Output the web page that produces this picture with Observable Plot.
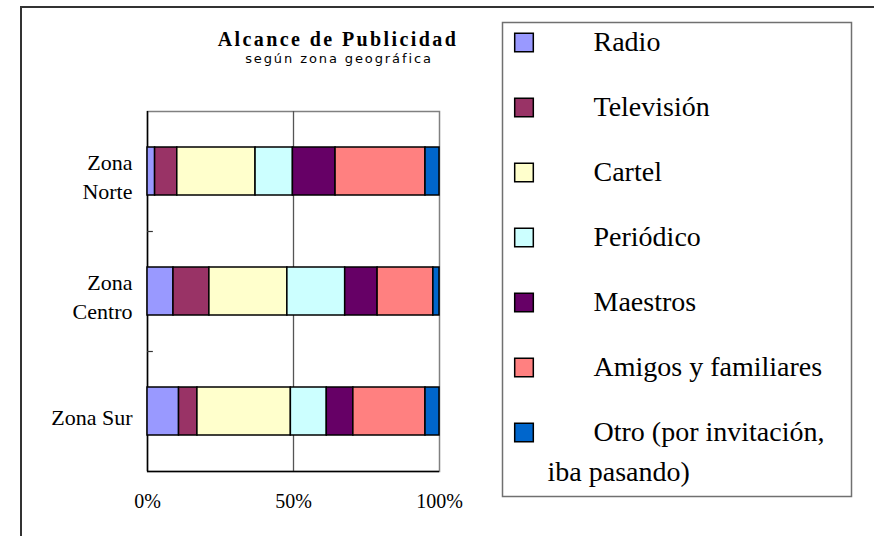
<!DOCTYPE html>
<html>
<head>
<meta charset="utf-8">
<script src="https://cdn.jsdelivr.net/npm/d3@7"></script>
<script src="https://cdn.jsdelivr.net/npm/@observablehq/plot@0.6"></script>
<style>
  html, body { margin: 0; padding: 0; background: #fff; overflow: hidden; }
  #wrap { position: relative; width: 874px; height: 536px; overflow: hidden; background: #fff; }
  #outer { position: absolute; left: 20px; top: 6px; width: 1000px; height: 1000px;
           border-top: 2px solid #333; border-left: 2px solid #333; }
  .abs { position: absolute; }
  #title { left: 138px; width: 400px; top: 31px; text-align: center; font-family: "Liberation Serif", serif;
           font-weight: bold; font-size: 20px; line-height: 16px; letter-spacing: 2.4px; color: #000; white-space: nowrap; }
  #subtitle { left: 139px; width: 400px; top: 52px; text-align: center; font-family: "DejaVu Sans", sans-serif;
           font-size: 13px; line-height: 14px; letter-spacing: 1.9px; color: #000; white-space: nowrap; }
</style>
</head>
<body>
<div id="wrap">
  <div id="outer"></div>
  <div id="title" class="abs">Alcance de Publicidad</div>
  <div id="subtitle" class="abs">según zona geográfica</div>
  <div id="chart" class="abs" style="left:0;top:0"></div>
  <div id="legend" class="abs" style="left:501px;top:21px"></div>
</div>
<script>
// ---- data ----
const zones = ["Zona Norte", "Zona Centro", "Zona Sur"];
const zoneLabels = ["Zona\nNorte", "Zona\nCentro", "Zona Sur"];
const series = ["Radio", "Televisión", "Cartel", "Periódico", "Maestros", "Amigos y familiares", "Otro (por invitación, iba pasando)"];
const legendLines = ["Radio", "Televisión", "Cartel", "Periódico", "Maestros", "Amigos y familiares", "Otro (por invitación,"];
const legendContinuation = ["iba pasando)"];
const colors = ["#9999FF", "#993366", "#FFFFCC", "#CCFFFF", "#660066", "#FF8080", "#0066CC"];
const radio      = [2.6, 8.9, 10.8];
const television = [7.6, 12.3, 6.3];
const cartel     = [26.8, 26.7, 32.0];
const periodico  = [12.8, 19.8, 12.3];
const maestros   = [14.6, 11.1, 9.1];
const amigos     = [30.8, 19.1, 24.7];
const otro       = [4.8, 2.1, 4.8];
const xTicks = [0, 0.5, 1];

const seriesValues = [radio, television, cartel, periodico, maestros, amigos, otro];
const rows = [];
series.forEach((s, si) => zones.forEach((z, zi) => rows.push({zone: z, series: s, value: seriesValues[si][zi]})));

const serif = '"Liberation Serif", "DejaVu Serif", serif';

const chart = Plot.plot({
  width: 480,
  height: 536,
  marginLeft: 147,
  marginRight: 41,
  marginTop: 111,
  marginBottom: 65,
  style: {background: "transparent", fontFamily: serif, fontSize: "20px", color: "#000", overflow: "visible"},
  x: {domain: [0, 1], ticks: xTicks, tickFormat: "%", tickSize: 0, tickPadding: 22, label: null},
  y: {domain: zones, paddingInner: 0.6, paddingOuter: 0.3, axis: null},
  color: {domain: series, range: colors},
  marks: [
    Plot.frame({stroke: "#808080", strokeWidth: 1.5}),
    Plot.ruleX([0.5], {stroke: "#555", strokeWidth: 1.3}),
    Plot.ruleX([0], {stroke: "#000", strokeWidth: 1.5}),
    Plot.ruleY([zones[2]], {stroke: "#000", strokeWidth: 1.5, dy: 60}),
    Plot.ruleY(zones.slice(0, 2), {x1: 0, x2: 0.02, stroke: "#333", strokeWidth: 1.2, dy: 60}),
    Plot.barX(rows, Plot.stackX({x: "value", y: "zone", fill: "series", offset: "normalize", stroke: "#000", strokeWidth: 1.5})),
    Plot.text(zoneLabels, {y: (d, i) => zones[i], text: d => d, frameAnchor: "left", textAnchor: "end", dx: -15, dy: 4,
      fontSize: 22, lineHeight: 1.28, fill: "#000"})
  ]
});
document.getElementById("chart").appendChild(chart);

const legend = Plot.plot({
  width: 351,
  height: 476,
  margin: 1,
  style: {background: "transparent", fontFamily: serif, color: "#000", overflow: "visible"},
  y: {type: "point", domain: series, range: [20, 411.2], padding: 0, axis: null},
  color: {domain: series, range: colors},
  marks: [
    Plot.frame({stroke: "#707070", strokeWidth: 1.5}),
    Plot.dot(series, {y: d => d, fill: d => d, symbol: "square", r: 10.5, stroke: "#000", strokeWidth: 1.5, frameAnchor: "left", dx: 21.5}),
    Plot.text(legendLines, {y: (d, i) => series[i], text: d => d, frameAnchor: "left", textAnchor: "start", dx: 91, fontSize: 28, fill: "#000"}),
    Plot.text(legendContinuation, {y: () => series[6], text: d => d, frameAnchor: "left", textAnchor: "start", dx: 45, dy: 40, fontSize: 28, fill: "#000"})
  ]
});
document.getElementById("legend").appendChild(legend);
</script>
</body>
</html>
